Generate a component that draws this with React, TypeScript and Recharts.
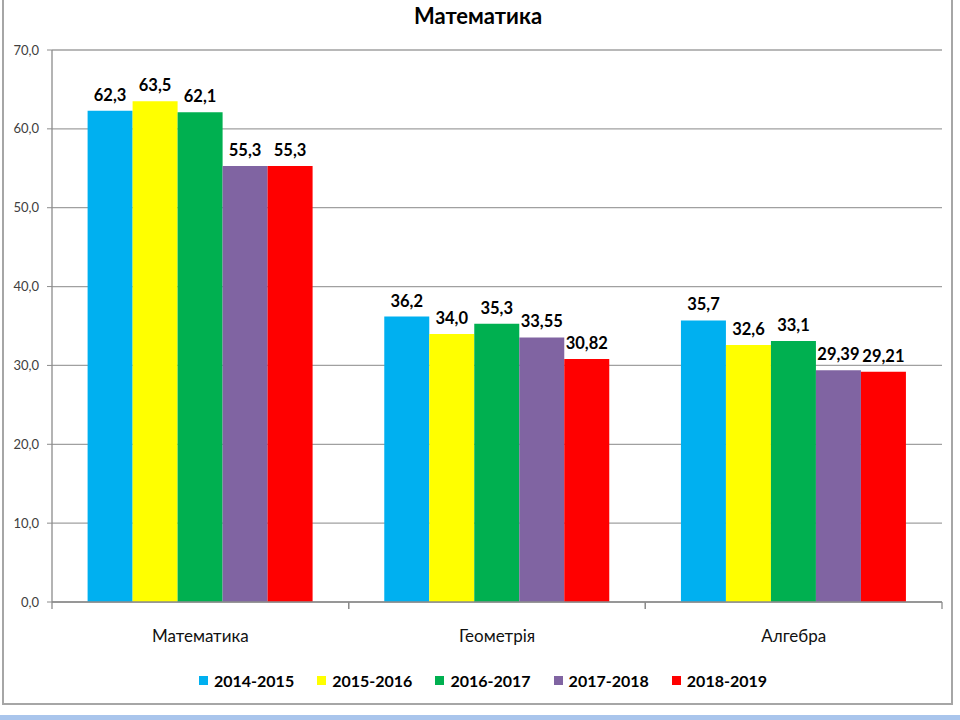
import React from 'react';
import { BarChart, Bar, XAxis, YAxis, CartesianGrid, Legend, LabelList, Text } from 'recharts';

const categories = ['Математика', 'Геометрія', 'Алгебра'];
const seriesNames = ['2014-2015', '2015-2016', '2016-2017', '2017-2018', '2018-2019'];
const seriesColors = ['#00B0F0', '#FFFF00', '#00B050', '#8064A2', '#FF0000'];

const values2014 = [62.3, 36.2, 35.7];
const values2015 = [63.5, 34.0, 32.6];
const values2016 = [62.1, 35.3, 33.1];
const values2017 = [55.3, 33.55, 29.39];
const values2018 = [55.3, 30.82, 29.21];

const yTicks = [0, 10, 20, 30, 40, 50, 60, 70];

const allValues = [values2014, values2015, values2016, values2017, values2018];

const data = categories.map((name, i) => {
  const row: Record<string, string | number> = { name };
  seriesNames.forEach((s, j) => {
    row[s] = allValues[j][i];
  });
  return row;
});

const FONT = 'Lato, "Open Sans", sans-serif';
const AXIS = '#8c8c8c';
const TICK_SIZE = 7;
const TICK_MARGIN = 15;

const fmtLabel = (v: number) => {
  const tenths = v * 10;
  const s = Math.abs(tenths - Math.round(tenths)) < 1e-6 ? v.toFixed(1) : v.toFixed(2);
  return s.replace('.', ',');
};

const fmtTick = (v: number) => v.toFixed(1).replace('.', ',');

// category label plus Excel-style tick marks on the band edges
const CategoryTick = (props: any) => {
  const { x, y, payload } = props;
  const axisY = y - TICK_SIZE - TICK_MARGIN;
  const half = payload.offset || 0;
  const left = payload.coordinate - half;
  const right = payload.coordinate + half;
  return (
    <g>
      <line x1={left} x2={left} y1={axisY} y2={axisY + TICK_SIZE} stroke={AXIS} strokeWidth={1.3} />
      <line x1={right} x2={right} y1={axisY} y2={axisY + TICK_SIZE} stroke={AXIS} strokeWidth={1.3} />
      <Text x={x} y={y} dy={6} textAnchor="middle" verticalAnchor="start" fontFamily={FONT} fontSize={17} fill="#111">
        {payload.value}
      </Text>
    </g>
  );
};

const renderLegend = () => (
  <div
    style={{
      height: 30,
      display: 'flex',
      justifyContent: 'center',
      alignItems: 'center',
      fontFamily: FONT,
      fontWeight: 700,
      fontSize: 16,
      color: '#000',
      paddingLeft: 16,
    }}
  >
    {seriesNames.map((s, i) => (
      <div key={s} style={{ display: 'flex', alignItems: 'center', marginRight: i < seriesNames.length - 1 ? 23 : 0 }}>
        <span style={{ width: 9, height: 9, background: seriesColors[i], display: 'inline-block', marginRight: 6 }} />
        <span>{s}</span>
      </div>
    ))}
  </div>
);

export default function App() {
  return (
    <div style={{ position: 'fixed', left: 0, top: 0, width: 960, height: 720, background: '#fff', overflow: 'hidden' }}>
      <div
        style={{
          position: 'absolute',
          left: 2,
          top: -2,
          width: 951,
          height: 707,
          border: '2px solid #a6a6a6',
          boxSizing: 'border-box',
        }}
      />
      <div style={{ position: 'absolute', left: 0, top: 715, width: 960, height: 5, background: '#a9c5ec' }} />
      <div
        style={{
          position: 'absolute',
          left: 0,
          top: 2,
          width: 956,
          textAlign: 'center',
          fontFamily: FONT,
          fontWeight: 700,
          fontSize: 22,
          color: '#000',
        }}
      >
        Математика
      </div>
      <div style={{ position: 'absolute', left: 0, top: 0 }}>
        <BarChart
          width={960}
          height={720}
          data={data}
          margin={{ top: 50, right: 18, bottom: 25, left: 8 }}
          barCategoryGap="12%"
          barGap={0}
        >
          <CartesianGrid vertical={false} stroke="#a0a0a0" strokeWidth={1.3} />
          <XAxis
            dataKey="name"
            height={63}
            tickLine={false}
            tickSize={TICK_SIZE}
            tickMargin={TICK_MARGIN}
            axisLine={{ stroke: AXIS, strokeWidth: 1.3 }}
            tick={<CategoryTick />}
          />
          <YAxis
            width={44}
            domain={[0, 70]}
            ticks={yTicks}
            tickFormatter={fmtTick}
            tickSize={5}
            tickMargin={8}
            axisLine={{ stroke: AXIS, strokeWidth: 1.3 }}
            tickLine={{ stroke: AXIS }}
            tick={{ fontFamily: FONT, fontSize: 13, fill: '#404040' }}
          />
          <Legend verticalAlign="bottom" content={renderLegend} wrapperStyle={{ height: 30 }} />
          {seriesNames.map((s, i) => (
            <Bar key={s} dataKey={s} fill={seriesColors[i]} isAnimationActive={false}>
              <LabelList
                dataKey={s}
                position="top"
                offset={10}
                formatter={(v: number) => fmtLabel(v)}
                style={{ fontFamily: FONT, fontWeight: 700, fontSize: 16.5, fill: '#000' }}
              />
            </Bar>
          ))}
        </BarChart>
      </div>
    </div>
  );
}
